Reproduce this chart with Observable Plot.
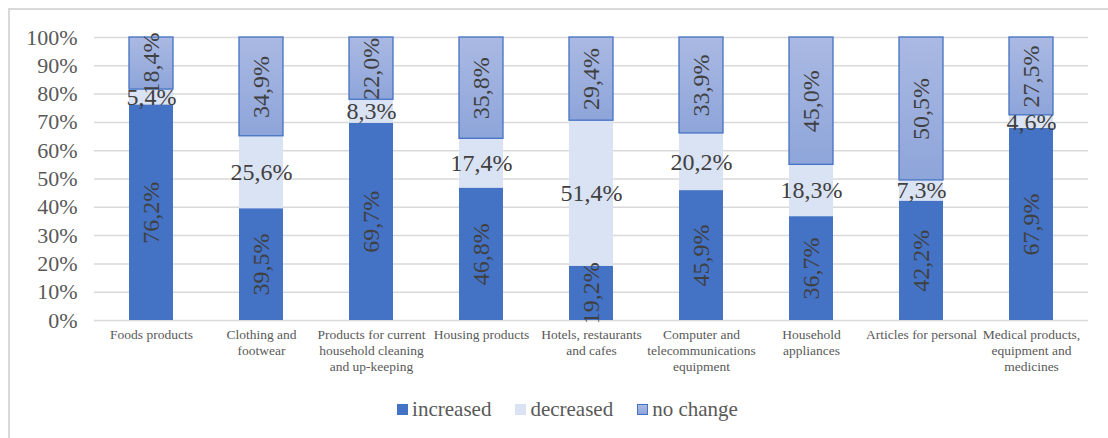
<!DOCTYPE html>
<html>
<head>
<meta charset="utf-8">
<script src="https://cdn.jsdelivr.net/npm/d3@7"></script>
<script src="https://cdn.jsdelivr.net/npm/@observablehq/plot@0.6"></script>
<style>
  html, body { margin: 0; padding: 0; background: #fff; }
  body { width: 1108px; height: 438px; position: relative; overflow: hidden; font-family: "Liberation Serif", "Times New Roman", Times, serif; }
  #chart svg, #chart svg text { font-family: "Liberation Serif", "Times New Roman", Times, serif !important; }
  #frame { position: absolute; left: 8px; top: 8px; width: 1110px; height: 440px; border-top: 2px solid #d9d9d9; border-left: 2px solid #d9d9d9; box-sizing: border-box; }
  #chart { position: absolute; left: 0; top: 0; }
  #legend { position: absolute; left: 0; top: 396px; width: 1108px; display: flex; justify-content: center; gap: 24px; font-size: 21px; line-height: 26px; color: #595959; padding-left: 27px; box-sizing: border-box; }
  .item { display: flex; align-items: center; gap: 4px; }
  .sw { width: 11px; height: 11px; display: inline-block; box-sizing: border-box; }
</style>
</head>
<body>
<div id="frame"></div>
<div id="chart"></div>
<div id="legend"></div>
<script>
const categories = [
  "Foods products",
  "Clothing and footwear",
  "Products for current household cleaning and up-keeping",
  "Housing products",
  "Hotels, restaurants and cafes",
  "Computer and telecommunications equipment",
  "Household appliances",
  "Articles for personal",
  "Medical products, equipment and medicines"
];
const tickLabels = [
  "Foods products",
  "Clothing and\nfootwear",
  "Products for current\nhousehold cleaning\nand up-keeping",
  "Housing products",
  "Hotels, restaurants\nand cafes",
  "Computer and\ntelecommunications\nequipment",
  "Household\nappliances",
  "Articles for personal",
  "Medical products,\nequipment and\nmedicines"
];
const seriesNames = ["increased", "decreased", "no change"];
const increased = [76.2, 39.5, 69.7, 46.8, 19.2, 45.9, 36.7, 42.2, 67.9];
const decreased = [5.4, 25.6, 8.3, 17.4, 51.4, 20.2, 18.3, 7.3, 4.6];
const noChange  = [18.4, 34.9, 22.0, 35.8, 29.4, 33.9, 45.0, 50.5, 27.5];
const yTicks = [0, 10, 20, 30, 40, 50, 60, 70, 80, 90, 100];

const seriesValues = [increased, decreased, noChange];
const rows = [];
categories.forEach((c, i) => {
  seriesNames.forEach((s, k) => {
    rows.push({category: c, series: s, value: seriesValues[k][i]});
  });
});

const fills = {"increased": "#4472C4", "decreased": "#DAE3F3", "no change": "url(#ncGrad)"};
const strokes = {"increased": "none", "decreased": "none", "no change": "#4472C4"};
const fmt = v => v.toFixed(1).replace(".", ",") + "%";
const tickMap = new Map(categories.map((c, i) => [c, tickLabels[i]]));

const stackOpts = {x: "category", y: "value", z: "series", order: seriesNames};

const chart = Plot.plot({
  width: 1108,
  height: 386,
  marginLeft: 94,
  marginRight: 20,
  marginTop: 37,
  marginBottom: 66,
  style: {fontFamily: "Liberation Serif, serif", background: "transparent", overflow: "visible"},
  x: {domain: categories, paddingInner: 0.6, paddingOuter: 0.3, label: null},
  y: {domain: [0, 100], label: null},
  color: {type: "identity"},
  marks: [
    Plot.gridY(yTicks, {stroke: "#d9d9d9", strokeOpacity: 1, strokeWidth: 1.5}),
    Plot.axisY(yTicks, {tickSize: 0, tickPadding: 17, tickFormat: d => d + "%", fontSize: 22, fill: "#595959", label: null}),
    Plot.axisX({tickSize: 0, tickPadding: 7, tickFormat: d => tickMap.get(d), fontSize: 13.5, lineHeight: 1.19, fill: "#595959", label: null}),
    Plot.barY(rows, Plot.stackY({
      ...stackOpts,
      fill: d => fills[d.series],
      stroke: d => strokes[d.series],
      strokeWidth: 1.3
    })),
    Plot.text(rows, Plot.stackY({
      ...stackOpts,
      text: d => fmt(d.value),
      rotate: d => d.series === "decreased" ? 0 : -90,
      fontSize: 24,
      fill: "#404040"
    }))
  ]
});

document.getElementById("chart").appendChild(chart);

const svg = d3.select(chart);
const defs = svg.insert("defs", ":first-child");
const g = defs.append("linearGradient").attr("id", "ncGrad").attr("x1", 0).attr("y1", 0).attr("x2", 0).attr("y2", 1);
g.append("stop").attr("offset", "0%").attr("stop-color", "#AAB9E2");
g.append("stop").attr("offset", "100%").attr("stop-color", "#8EA5DA");

const legend = document.getElementById("legend");
const swStyles = {
  "increased": "background:#4472C4;",
  "decreased": "background:#DAE3F3;",
  "no change": "background:linear-gradient(#AAB9E2,#8EA5DA);border:1px solid #4472C4;"
};
seriesNames.forEach(s => {
  const it = document.createElement("div");
  it.className = "item";
  it.innerHTML = `<span class="sw" style="${swStyles[s]}"></span><span>${s}</span>`;
  legend.appendChild(it);
});
</script>
</body>
</html>
